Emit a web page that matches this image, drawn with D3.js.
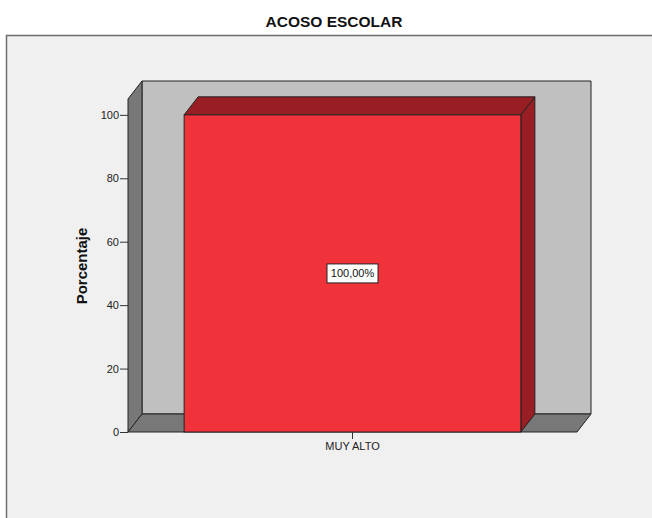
<!DOCTYPE html>
<html>
<head>
<meta charset="utf-8">
<script src="https://cdn.jsdelivr.net/npm/d3@7"></script>
<style>
  html, body { margin: 0; padding: 0; background: #ffffff; }
  svg { display: block; font-family: "Liberation Sans", Arial, sans-serif; }
</style>
</head>
<body>
<svg id="chart" width="652" height="518"></svg>
<script>
const title = "ACOSO ESCOLAR";
const yTitle = "Porcentaje";
const categories = ["MUY ALTO"];
const values = [100];
const valueLabels = ["100,00%"];
const yTicks = [0, 20, 40, 60, 80, 100];

const svg = d3.select("#chart");
const W = 652, H = 518;
const dx = 14, dy = -18;

// outer frame
svg.append("rect").attr("x", 0).attr("y", 0).attr("width", W).attr("height", H).attr("fill", "#ffffff");
svg.append("rect").attr("x", 6.5).attr("y", 35.5).attr("width", 700).attr("height", 600)
  .attr("fill", "#f0f0f0").attr("stroke", "#6e6e6e").attr("stroke-width", 1.5);

svg.append("text").attr("x", 334).attr("y", 26.5).attr("text-anchor", "middle")
  .attr("font-size", 15.5).attr("font-weight", "bold").attr("fill", "#111").text(title);

const y = d3.scaleLinear().domain([0, 105]).range([432, 99]);
const x = d3.scaleBand().domain(categories).range([128, 577]).paddingInner(0).paddingOuter(0.1667);

const x0 = x.range()[0], x1 = x.range()[1];
const yb = y(0), yt = y(105);
const stroke = "#222";

// back wall
svg.append("polygon")
  .attr("points", [[x0+dx, yt+dy], [x1+dx, yt+dy], [x1+dx, yb+dy], [x0+dx, yb+dy]].map(p => p.join(",")).join(" "))
  .attr("fill", "#c0c0c0").attr("stroke", stroke).attr("stroke-width", 1);
// left wall
svg.append("polygon")
  .attr("points", [[x0, yb], [x0, yt], [x0+dx, yt+dy], [x0+dx, yb+dy]].map(p => p.join(",")).join(" "))
  .attr("fill", "#787878").attr("stroke", stroke).attr("stroke-width", 1);
// floor
svg.append("polygon")
  .attr("points", [[x0, yb], [x0+dx, yb+dy], [x1+dx, yb+dy], [x1, yb]].map(p => p.join(",")).join(" "))
  .attr("fill", "#787878").attr("stroke", stroke).attr("stroke-width", 1);

// bars
const bars = svg.append("g");
categories.forEach((c, i) => {
  const bx0 = x(c), bx1 = x(c) + x.bandwidth();
  const by = y(values[i]);
  bars.append("polygon")
    .attr("points", [[bx1, by], [bx1+dx, by+dy], [bx1+dx, yb+dy], [bx1, yb]].map(p => p.join(",")).join(" "))
    .attr("fill", "#981e23").attr("stroke", stroke).attr("stroke-width", 1);
  bars.append("polygon")
    .attr("points", [[bx0, by], [bx0+dx, by+dy], [bx1+dx, by+dy], [bx1, by]].map(p => p.join(",")).join(" "))
    .attr("fill", "#981e23").attr("stroke", stroke).attr("stroke-width", 1);
  bars.append("rect").attr("x", bx0).attr("y", by).attr("width", bx1 - bx0).attr("height", yb - by)
    .attr("fill", "#f0323b").attr("stroke", stroke).attr("stroke-width", 1);
  // value label
  const cx = (bx0 + bx1) / 2, cy = y(values[i] / 2);
  const lg = bars.append("g");
  lg.append("rect").attr("x", cx - 25.5).attr("y", cy - 9.5).attr("width", 51).attr("height", 19)
    .attr("fill", "#ffffff").attr("stroke", "#222").attr("stroke-width", 1);
  lg.append("text").attr("x", cx).attr("y", cy + 4).attr("text-anchor", "middle")
    .attr("font-size", 11).attr("fill", "#111").text(valueLabels[i]);
});

// y axis
const yAxis = svg.append("g").attr("transform", `translate(${x0},0)`)
  .call(d3.axisLeft(y).tickValues(yTicks).tickSize(8).tickSizeOuter(0).tickPadding(1));
yAxis.select(".domain").remove();
yAxis.selectAll(".tick line").attr("stroke", "#333");
yAxis.selectAll(".tick text").attr("font-size", 11).attr("fill", "#222")
  .attr("font-family", "Liberation Sans, Arial, sans-serif");

// x axis
const xAxis = svg.append("g").attr("transform", `translate(0,${yb})`)
  .call(d3.axisBottom(x).tickSize(7).tickSizeOuter(0).tickPadding(3));
xAxis.select(".domain").remove();
xAxis.selectAll(".tick line").attr("stroke", "#333");
xAxis.selectAll(".tick text").attr("font-size", 11).attr("fill", "#222")
  .attr("font-family", "Liberation Sans, Arial, sans-serif");

// y title
svg.append("text").attr("transform", "translate(87,266) rotate(-90)")
  .attr("text-anchor", "middle").attr("font-size", 15).attr("font-weight", "bold")
  .attr("fill", "#111").text(yTitle);
</script>
</body>
</html>
